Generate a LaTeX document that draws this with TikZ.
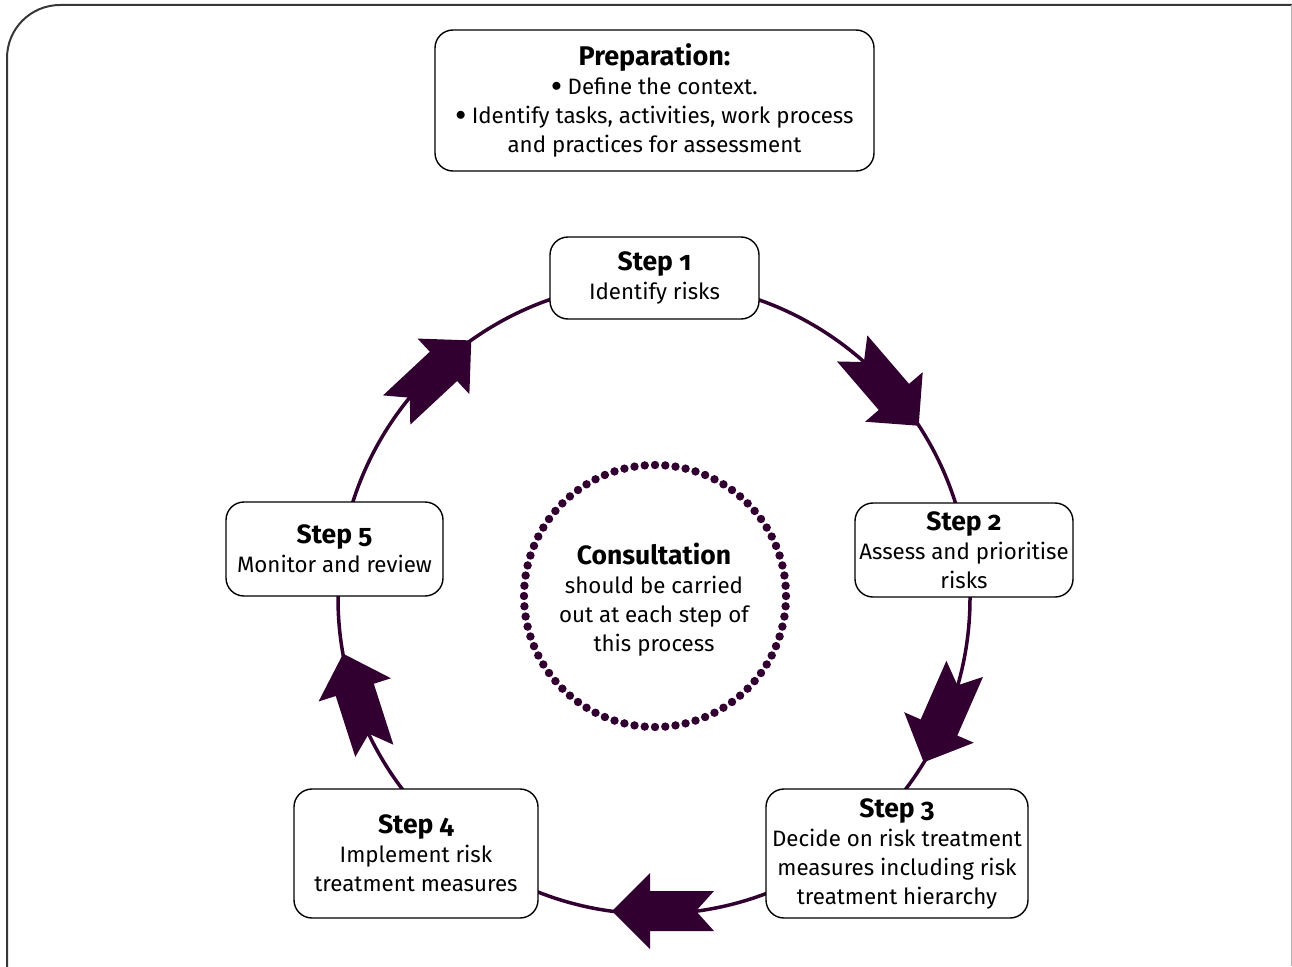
\documentclass[tikz,border=0pt]{standalone}
\usepackage{fontspec}
\setmainfont[Numbers=OldStyle]{Fira Sans}
\definecolor{plum}{RGB}{49,0,49}
\definecolor{framec}{RGB}{55,55,55}
\newcommand{\bul}{\raisebox{0.12em}{$\bullet$}}
\begin{document}
\begin{tikzpicture}[x=1pt,y=-1pt,
  box/.style={draw=black, line width=1.4pt, rounded corners=18pt, fill=white,
    align=center, inner sep=0pt, font=\fontsize{22.3}{29}\selectfont},
  ring/.style={draw=plum, line width=3.5pt},
  bigarrow/.pic={\fill[plum] (42,0) -- (4,38) -- (4,20) -- (-60,20) -- (-42,0)
     -- (-60,-20) -- (4,-20) -- (4,-38) -- cycle;}]
\useasboundingbox (0,0) rectangle (1292,966);
% outer frame
\draw[framec, line width=2pt, rounded corners=53pt] (7,990) -- (7,5) -- (1330,5);
\draw[gray!60, line width=1pt] (1291,5) -- (1291,966);
% ring
\coordinate (C) at (654,598);
\draw[ring] (C) circle[radius=316];
% arrows
\pic[rotate=40.7-90] at ([shift={(-40.7:313)}]C) {bigarrow};
\pic[rotate=-23.7-90] at ([shift={(23.7:313)}]C) {bigarrow};
\pic[rotate=-90-90] at ([shift={(90:313)}]C) {bigarrow};
\pic[rotate=-162.2-90] at ([shift={(162.2:313)}]C) {bigarrow};
\pic[rotate=133-90] at ([shift={(-133:313)}]C) {bigarrow};
% preparation
\node[box, minimum width=439pt, minimum height=141pt] (prep) at (654.5,100.5)
  {{\fontsize{27}{29}\selectfont\bfseries Preparation:}\\
   \bul\ Define the context.\\
   \bul\ Identify tasks, activities, work process\\
   and practices for assessment};
% steps
\node[box, minimum width=209pt, minimum height=82pt] (s1) at (654.5,278)
  {{\fontsize{26.5}{29}\selectfont\bfseries Step 1}\\Identify risks};
\node[box, minimum width=218pt, minimum height=94pt] (s2) at (964,550)
  {{\fontsize{26.5}{29}\selectfont\bfseries Step 2}\\Assess and prioritise\\risks};
\node[box, minimum width=262pt, minimum height=129pt] (s3) at (897,853.5)
  {{\fontsize{26.5}{29}\selectfont\bfseries Step 3}\\Decide on risk treatment\\measures including risk\\treatment hierarchy};
\node[box, minimum width=244pt, minimum height=129pt] (s4) at (416,853.5)
  {{\fontsize{26.5}{29}\selectfont\bfseries Step 4}\\Implement risk\\treatment measures};
\node[box, minimum width=217pt, minimum height=94pt] (s5) at (334.5,549)
  {{\fontsize{26.5}{29}\selectfont\bfseries Step 5}\\Monitor and review};
% consultation
\coordinate (D) at (655,596);
\foreach \a in {0,4.5,...,355.5}
  \fill[plum] ([shift={(\a:131)}]D) circle[radius=4.2];
\node[align=center, inner sep=0pt, font=\fontsize{22.3}{29}\selectfont] (cons) at (654,600)
  {{\fontsize{26.5}{29}\selectfont\bfseries Consultation}\\should be carried\\out at each step of\\this process};
\end{tikzpicture}
\end{document}
